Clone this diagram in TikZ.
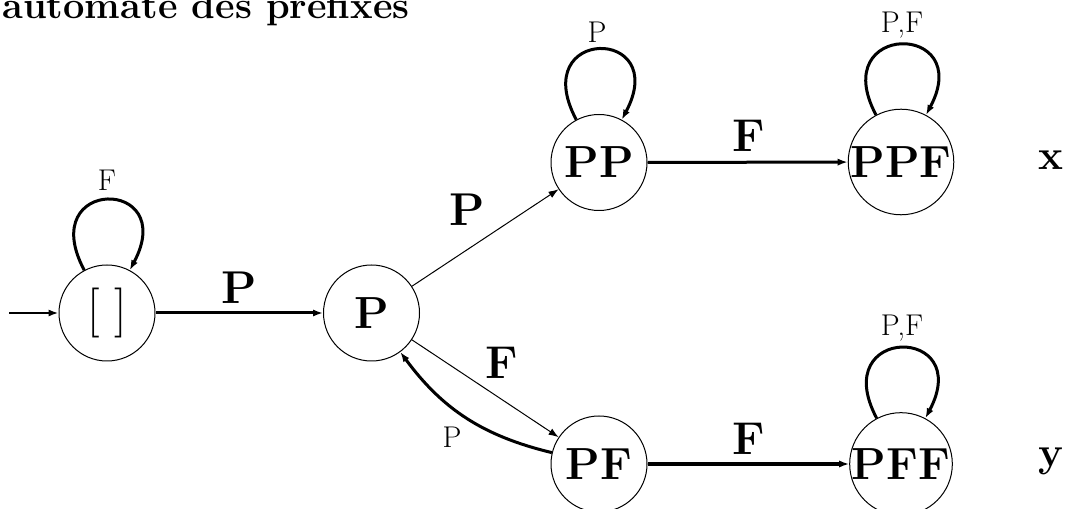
\documentclass[tikz,border=0pt]{standalone}
\usetikzlibrary{arrows.meta}
\begin{document}
\begin{tikzpicture}[x=1pt,y=1pt,
  state/.style={circle,draw,line width=0.5pt,minimum size=48pt,inner sep=0pt,
    font=\fontsize{22.5}{26}\selectfont\bfseries},
  startnode/.style={circle,draw,line width=0.5pt,minimum size=48pt,inner sep=0pt,
    font=\fontsize{25}{29}\selectfont},
  tip/.style={-{Latex[length=5pt,width=3.6pt]}},
  thinedge/.style={tip,line width=0.5pt},
  thickedge/.style={tip,line width=1.5pt},
  edgelab/.style={font=\fontsize{23}{27}\selectfont\bfseries,inner sep=0pt},
  looplab/.style={font=\fontsize{15}{18}\selectfont,inner sep=0pt},
  selfloop/.style={thickedge,out=118,in=62,distance=53pt},
  sidelab/.style={font=\fontsize{21}{25}\selectfont\bfseries,inner sep=0pt,anchor=base},
]
\useasboundingbox (0,0) rectangle (534.5,254);

\node[anchor=base west,inner sep=0pt,font=\fontsize{19}{23}\selectfont\bfseries] (title) at (1,244.5) {automate des préfixes};

\node[startnode] (e) at (53.5,97.5) {[\kern7.5pt]};
\node[state] (p) at (185.75,97.5) {P};
\node[state] (pp) at (299.5,172.75) {PP};
\node[state] (ppf) at (450.5,173) {PPF};
\node[state] (pf) at (299.5,22) {PF};
\node[state] (pff) at (450.5,22) {PFF};

\coordinate (init) at (4.5,97.5);
\draw[tip,line width=1pt] (init) -- (e);

\draw[selfloop] (e) to (e);
\draw[selfloop] (pp) to (pp);
\draw[selfloop] (ppf) to (ppf);
\draw[selfloop] (pff) to (pff);
\node[looplab] (le) at (53.5,164) {F};
\node[looplab] (lpp) at (298.5,238) {P};
\node[looplab] (lppf) at (451,241.5) {P,F};
\node[looplab] (lpff) at (451,90) {P,F};

\draw[thickedge] (e) -- (p);
\draw[thinedge] (p) -- (pp);
\draw[thinedge] (p) -- (pf);
\draw[thickedge] (pf) to[bend left=20] (p);
\draw[thickedge] (pp) -- (ppf);
\draw[thickedge] (pf) -- (pff);
\node[edgelab] (l1) at (119.5,110.25) {P};
\node[edgelab] (l2) at (233.5,149) {P};
\node[edgelab] (l3) at (251,72.5) {F};
\node[looplab] (l4) at (226,35.5) {P};
\node[edgelab] (l5) at (374.5,186.25) {F};
\node[edgelab] (l6) at (374.5,34.75) {F};

\node[sidelab] (x) at (525.5,169) {x};
\node[sidelab] (y) at (525.5,20.5) {y};
\end{tikzpicture}
\end{document}
